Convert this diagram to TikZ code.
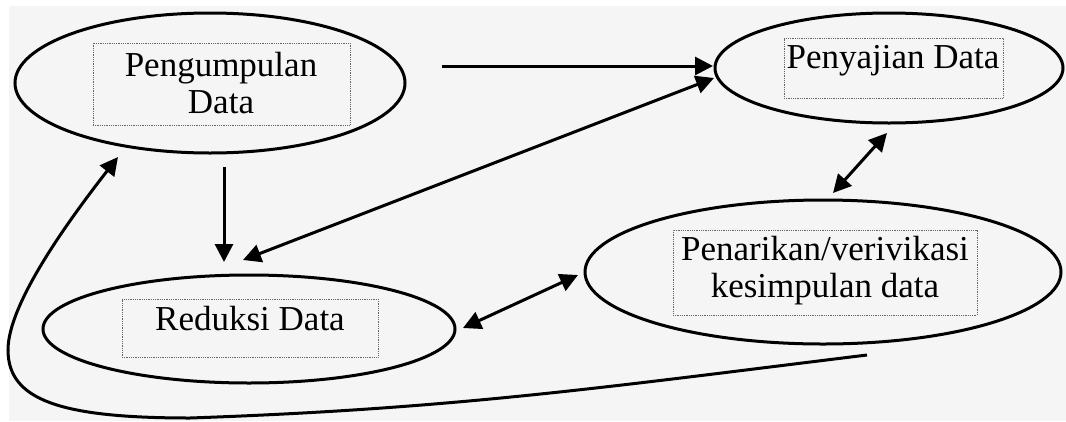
\documentclass[tikz,border=0pt]{standalone}
\usepackage{fontspec}
\setmainfont{Liberation Serif}
\usetikzlibrary{shapes.geometric,arrows.meta,calc}
\begin{document}
\begin{tikzpicture}[x=1pt,y=-1pt,
  ell/.style={draw, ellipse, line width=3pt, inner sep=0pt},
  dbox/.style={draw=black!60, densely dotted, line width=0.8pt, inner sep=0pt, rectangle},
  lbl/.style={font=\fontsize{35}{37}\selectfont, align=center, inner sep=0pt},
  conn/.style={line width=3pt, -{Triangle[length=18pt,width=18pt]}},
  bconn/.style={line width=3pt, {Triangle[length=18pt,width=18pt]}-{Triangle[length=18pt,width=18pt]}}]
\useasboundingbox (0,0) rectangle (1066,421);
\fill[white] (0,0) rectangle (1066,421);
\fill[black!4] (9,6) rectangle (1066,421);

% ellipses
\node[ell, minimum width=390pt, minimum height=140pt] (e1) at (210,83) {};
\node[ell, minimum width=348pt, minimum height=110pt] (e2) at (889,68) {};
\node[ell, minimum width=476pt, minimum height=144pt] (e3) at (823,272) {};
\node[ell, minimum width=412pt, minimum height=108pt] (e4) at (249,329) {};

% dotted text boxes
\node[dbox, minimum width=257pt, minimum height=82pt] (b1) at (221.5,84) {};
\node[dbox, minimum width=219pt, minimum height=60pt] (b2) at (893.5,68) {};
\node[dbox, minimum width=304pt, minimum height=85pt] (b3) at (825,272.5) {};
\node[dbox, minimum width=256pt, minimum height=58pt] (b4) at (250,328) {};

% labels
\node[lbl] (t1) at (221,83) {Pengumpulan\\Data};
\node[lbl] (t2) at (893,61) {Penyajian Data};
\node[lbl] (t3) at (825,271) {Penarikan/verivikasi\\kesimpulan data};
\node[lbl] (t4) at (250,318.5) {Reduksi Data};

% connector end points
\coordinate (a1s) at (442,66);
\coordinate (a1e) at (713,66);
\coordinate (a2s) at (243,260);
\coordinate (a2e) at (714,78);
\coordinate (a3s) at (224,167);
\coordinate (a3e) at (224,262);
\coordinate (a4s) at (833,193);
\coordinate (a4e) at (887,133);
\coordinate (a5s) at (463,328);
\coordinate (a5e) at (578,275);
\coordinate (c1) at (867,355);
\coordinate (c2) at (190,418);
\coordinate (c3) at (8,350);
\coordinate (c4) at (118,157);

\draw[conn] (c1) to[out=187,in=2] (c2)
  .. controls (60,418) and (8,400) .. (c3)
  .. controls (8,305) and (65,225) .. (c4);
\draw[conn] (a1s) -- (a1e);
\draw[bconn] (a2s) -- (a2e);
\draw[conn] (a3s) -- (a3e);
\draw[bconn] (a4s) -- (a4e);
\draw[bconn] (a5s) -- (a5e);
\end{tikzpicture}
\end{document}
